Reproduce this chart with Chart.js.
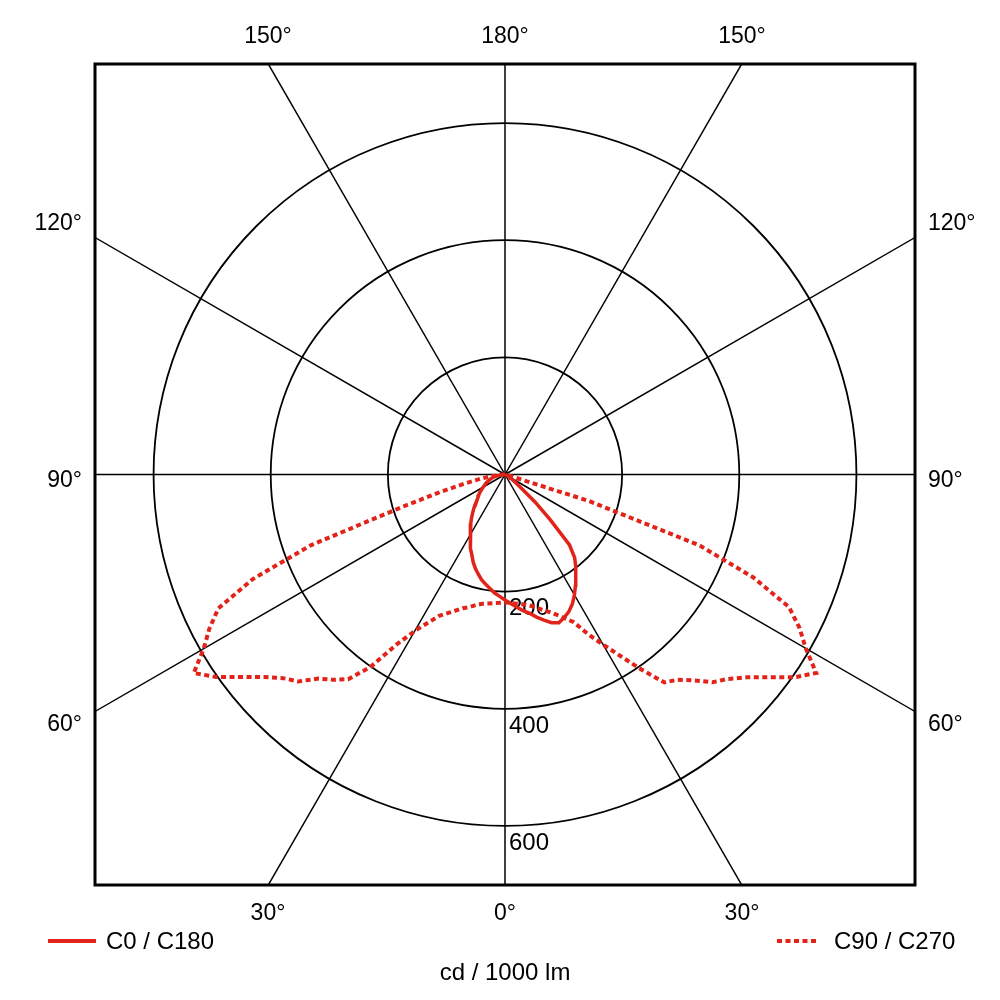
<!DOCTYPE html>
<html lang="de">

<head>
    <meta charset="UTF-8">
    <title>Lichtstärkeverteilung</title>
    <style>
        body { margin: 0; background: #fff; }
        #wrap { width: 1000px; height: 1000px; }
    </style>
</head>

<body>
    <div id="wrap">
        <canvas id="myChart" width="1000" height="1000"></canvas>
    </div>

    <script src="https://cdn.jsdelivr.net/npm/chart.js"></script>
    <script>
        // gamma angles, degrees from nadir
        const gamma = [0, 2.5, 5, 7.5, 10, 12.5, 15, 17.5, 20, 22.5, 25, 27.5, 30, 32.5, 35, 37.5, 40, 42.5,
            45, 47.5, 50, 52.5, 55, 57.5, 60, 62.5, 65, 67.5, 70, 72.5, 75, 77.5, 80, 82.5, 85, 87.5, 90];

        // cd / 1000 lm
        const c0 = [214, 220, 227, 234, 240, 249, 257, 265, 269, 264, 258, 249, 237, 224, 211, 198, 185, 163,
            109, 70, 36, 22, 15, 12, 10, 7, 4, 2, 0, 0, 0, 0, 0, 0, 0, 0, 0];
        const c180 = [214, 208, 203, 196, 190, 184, 176, 168, 159, 148, 139, 129, 119, 109, 102, 94, 86, 79,
            72, 65, 60, 56, 52, 47, 43, 39, 36, 33, 29, 26, 23, 19, 14, 9, 5, 2, 0];
        const c90 = [218, 219, 221, 223, 226, 231, 238, 245, 254, 265, 278, 307, 335, 367, 406, 447, 457, 476,
            501, 516, 538, 568, 603, 630, 593, 567, 535, 459, 353, 150, 5, 0, 0, 0, 0, 0, 0];
        const c270 = [218, 219, 220, 222, 224, 228, 234, 239, 247, 256, 266, 285, 308, 343, 401, 440, 457, 472,
            499, 514, 537, 567, 602, 630, 594, 569, 540, 466, 353, 185, 113, 68, 43, 25, 10, 3, 0];

        const ringValues = [200, 400, 600];
        const ringLabels = ['200', '400', '600'];
        const spokeAngles = [0, 30, 60, 90, 120, 150, 180, 210, 240, 270, 300, 330];
        const unitLabel = 'cd / 1000 lm';

        const RED = '#e2231a';
        const FONT = '"Liberation Sans", Arial, sans-serif';

        // polar -> x/y (nadir down); left half first, then right half
        function toXY(left, right) {
            let pts = [];
            for (let i = gamma.length - 1; i >= 0; i--) {
                let g = gamma[i] * Math.PI / 180;
                pts.push({ x: -left[i] * Math.sin(g), y: -left[i] * Math.cos(g) });
            }
            for (let i = 1; i < gamma.length; i++) {
                let g = gamma[i] * Math.PI / 180;
                pts.push({ x: right[i] * Math.sin(g), y: -right[i] * Math.cos(g) });
            }
            return pts;
        }

        const polarGrid = {
            id: 'polarGrid',
            beforeDatasetsDraw(chart) {
                const { ctx, chartArea: a, scales: { x, y } } = chart;
                const cx = x.getPixelForValue(0), cy = y.getPixelForValue(0);
                ctx.save();
                ctx.beginPath();
                ctx.rect(a.left, a.top, a.right - a.left, a.bottom - a.top);
                ctx.clip();
                ctx.strokeStyle = '#000';
                // rings
                ctx.lineWidth = 1.8;
                ringValues.forEach(v => {
                    let r = x.getPixelForValue(v) - cx;
                    ctx.beginPath();
                    ctx.arc(cx, cy, r, 0, Math.PI * 2);
                    ctx.stroke();
                });
                // spokes
                ctx.lineWidth = 1.5;
                spokeAngles.forEach(d => {
                    let g = d * Math.PI / 180;
                    ctx.beginPath();
                    ctx.moveTo(cx, cy);
                    ctx.lineTo(x.getPixelForValue(3000 * Math.sin(g)), y.getPixelForValue(-3000 * Math.cos(g)));
                    ctx.stroke();
                });
                ctx.restore();

                // ring labels
                ctx.save();
                ctx.fillStyle = '#000';
                ctx.font = '24px ' + FONT;
                ctx.textAlign = 'left';
                ctx.textBaseline = 'top';
                ringValues.forEach((v, i) => {
                    let py = y.getPixelForValue(-v);
                    ctx.fillText(ringLabels[i], cx + 4, py + 5);
                });
                ctx.restore();
            },
            afterDatasetsDraw(chart) {
                const { ctx, chartArea: a, scales: { x, y } } = chart;
                const cx = x.getPixelForValue(0), cy = y.getPixelForValue(0);
                ctx.save();
                ctx.strokeStyle = '#000';
                ctx.lineWidth = 3;
                ctx.strokeRect(a.left, a.top, a.right - a.left, a.bottom - a.top);

                // angle labels where spokes leave the box
                ctx.fillStyle = '#000';
                ctx.font = '23px ' + FONT;
                const hw = (a.right - a.left) / 2, hh = (a.bottom - a.top) / 2;
                spokeAngles.forEach(d => {
                    let g = d * Math.PI / 180;
                    let dx = Math.sin(g), dy = Math.cos(g); // dy > 0 means downwards
                    let t = Math.min(Math.abs(dx) > 1e-9 ? hw / Math.abs(dx) : 1e9,
                        Math.abs(dy) > 1e-9 ? hh / Math.abs(dy) : 1e9);
                    let ex = cx + dx * t, ey = cy + dy * t;
                    let txt = (d <= 180 ? d : 360 - d) + '°';
                    ctx.textBaseline = 'middle';
                    if (Math.abs(ey - a.top) < 1) {
                        ctx.textAlign = 'center';
                        ctx.fillText(txt, ex, a.top - 27);
                    } else if (Math.abs(ey - a.bottom) < 1) {
                        ctx.textAlign = 'center';
                        ctx.fillText(txt, ex, a.bottom + 29);
                    } else {
                        let off = ey < cy - 1 ? -14 : (ey > cy + 1 ? 13 : 6);
                        if (ex < cx) {
                            ctx.textAlign = 'right';
                            ctx.fillText(txt, a.left - 13, ey + off);
                        } else {
                            ctx.textAlign = 'left';
                            ctx.fillText(txt, a.right + 13, ey + off);
                        }
                    }
                });

                // legend
                const ds = chart.data.datasets;
                ctx.lineWidth = 4;
                ctx.strokeStyle = RED;
                ctx.beginPath();
                ctx.moveTo(48, 941);
                ctx.lineTo(96, 941);
                ctx.stroke();
                ctx.setLineDash([5, 3.5]);
                ctx.beginPath();
                ctx.moveTo(777, 941);
                ctx.lineTo(818, 941);
                ctx.stroke();
                ctx.setLineDash([]);
                ctx.font = '24px ' + FONT;
                ctx.textAlign = 'left';
                ctx.textBaseline = 'middle';
                ctx.fillText(ds[0].label, 106, 942);
                ctx.fillText(ds[1].label, 834, 942);
                ctx.textAlign = 'center';
                ctx.fillText(unitLabel, cx, 973);
                ctx.restore();
            }
        };

        let ctx = document.getElementById('myChart');
        new Chart(ctx, {
            type: 'scatter',
            data: {
                datasets: [{
                    label: 'C0 / C180',
                    data: toXY(c180, c0),
                    showLine: true,
                    borderColor: RED,
                    borderWidth: 3.5,
                    pointRadius: 0,
                    fill: false
                }, {
                    label: 'C90 / C270',
                    data: toXY(c270, c90),
                    showLine: true,
                    borderColor: RED,
                    borderWidth: 4,
                    borderDash: [5, 3.5],
                    pointRadius: 0,
                    fill: false
                }]
            },
            options: {
                responsive: false,
                animation: false,
                layout: { padding: { left: 95, top: 64, right: 85, bottom: 115 } },
                scales: {
                    x: { type: 'linear', min: -700, max: 700, display: false },
                    y: { type: 'linear', min: -700, max: 700, display: false }
                },
                plugins: {
                    legend: { display: false },
                    tooltip: { enabled: false }
                },
                elements: { line: { tension: 0 } }
            },
            plugins: [polarGrid]
        });
    </script>
</body>

</html>
